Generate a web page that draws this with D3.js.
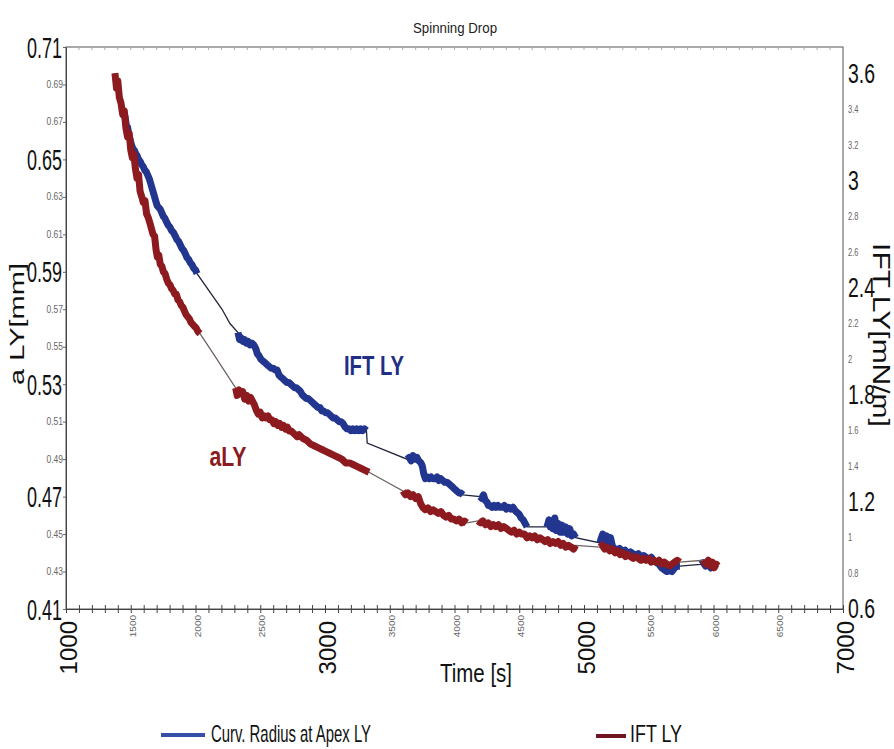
<!DOCTYPE html>
<html>
<head>
<meta charset="utf-8">
<script src="https://cdn.jsdelivr.net/npm/d3@7"></script>
<style>
  html, body { margin: 0; padding: 0; background: #fff; }
  svg text { font-family: "Liberation Sans", Arial, sans-serif; }
</style>
</head>
<body>
<svg id="chart" width="894" height="749"></svg>
<script>
// ---------------- DATA ----------------
const chartTitle = "Spinning Drop";
const xTitle = "Time [s]";
const yLeftTitle = "a LY[mm]";
const yRightTitle = "IFT LY[mN/m]";
const legendLabels = ["Curv. Radius at Apex LY", "IFT LY"];
const annotations = ["IFT LY", "aLY"];

const xTickLabels = [1000, 1500, 2000, 2500, 3000, 3500, 4000, 4500, 5000, 5500, 6000, 6500, 7000];
const xBigTicks = [1000, 3000, 5000, 7000];
const leftTicks = [0.41, 0.43, 0.45, 0.47, 0.49, 0.51, 0.53, 0.55, 0.57, 0.59, 0.61, 0.63, 0.65, 0.67, 0.69, 0.71];
const leftBigTicks = [0.41, 0.47, 0.53, 0.59, 0.65, 0.71];
const rightTicks = [0.6, 0.8, 1, 1.2, 1.4, 1.6, 1.8, 2, 2.2, 2.4, 2.6, 2.8, 3, 3.2, 3.4, 3.6];
const rightBigTicks = [0.6, 1.2, 1.8, 2.4, 3, 3.6];

// aLY [mm] (red, left axis): [time s, value]
const aLY = [
 [1378,0.696],[1390,0.688],[1400,0.692],[1412,0.683],[1425,0.680],[1438,0.674],[1450,0.676],[1462,0.667],
 [1475,0.662],[1488,0.664],[1500,0.655],[1512,0.651],[1524,0.653],[1536,0.645],[1548,0.640],[1560,0.642],
 [1572,0.633],[1585,0.630],[1597,0.627],[1610,0.628],[1622,0.621],[1635,0.619],[1648,0.616],[1660,0.613],
 [1672,0.610],[1684,0.609],[1695,0.602],[1705,0.598],[1716,0.599],[1728,0.594],[1740,0.593],[1752,0.590],
 [1765,0.589],[1778,0.586],[1790,0.584],[1803,0.583],[1815,0.581],[1828,0.580],[1840,0.578],[1852,0.578],
 [1865,0.575],[1878,0.574],[1890,0.572],[1903,0.571],[1915,0.569],[1928,0.567],[1940,0.566],[1952,0.565],
 [1965,0.563],[1978,0.562],[1990,0.561],[2005,0.560],[2020,0.558],[2035,0.557],
 [2150,0.545],
 [2310,0.528],[2322,0.524],[2335,0.527],[2350,0.525],[2365,0.526],[2380,0.522],[2395,0.524],[2410,0.521],
 [2425,0.523],[2440,0.521],[2455,0.519],[2470,0.516],[2485,0.514],[2500,0.515],[2515,0.512],[2530,0.513],
 [2545,0.512],[2560,0.513],[2575,0.511],[2590,0.511],[2605,0.509],[2620,0.510],[2635,0.508],[2650,0.509],
 [2665,0.507],[2680,0.508],[2695,0.506],[2710,0.507],[2725,0.505],[2740,0.505],[2755,0.504],[2770,0.503],
 [2785,0.502],[2800,0.503],[2830,0.501],[2860,0.500],[2890,0.498],[2920,0.497],[2950,0.496],[2980,0.495],
 [3010,0.494],[3040,0.493],[3070,0.492],[3100,0.491],[3130,0.490],[3160,0.488],[3190,0.488],[3220,0.487],
 [3250,0.486],[3280,0.485],[3310,0.484],[3340,0.483],
 [3602,0.473],[3620,0.471],[3640,0.472],[3660,0.470],[3680,0.471],[3700,0.469],[3720,0.470],[3740,0.466],
 [3757,0.464],[3775,0.463],[3795,0.464],[3815,0.462],[3835,0.463],[3855,0.462],[3875,0.461],[3895,0.462],
 [3915,0.460],[3935,0.459],[3955,0.460],[3975,0.458],[3995,0.458],[4015,0.457],[4035,0.458],[4055,0.456],
 [4075,0.457],[4095,0.456],
 [4181,0.457],[4200,0.456],[4220,0.457],[4240,0.455],[4260,0.456],[4280,0.454],[4300,0.455],[4320,0.454],
 [4340,0.455],[4360,0.453],[4380,0.454],[4400,0.453],[4420,0.452],[4440,0.451],[4460,0.452],[4480,0.450],
 [4500,0.451],[4520,0.450],[4540,0.450],[4560,0.448],[4580,0.449],[4600,0.448],[4620,0.449],[4640,0.447],
 [4660,0.448],[4680,0.447],[4700,0.446],[4720,0.447],[4740,0.445],[4760,0.446],[4780,0.445],[4800,0.446],
 [4820,0.444],[4840,0.445],[4860,0.443],[4880,0.444],[4900,0.443],[4920,0.442],[4935,0.444],
 [5124,0.443],[5140,0.444],[5160,0.442],[5180,0.443],[5200,0.441],[5220,0.442],[5240,0.440],[5260,0.441],
 [5280,0.439],[5300,0.440],[5320,0.438],[5340,0.439],[5360,0.438],[5380,0.437],[5400,0.438],[5420,0.437],
 [5440,0.436],[5460,0.437],[5480,0.436],[5500,0.437],[5520,0.435],[5540,0.436],[5560,0.435],[5580,0.436],
 [5600,0.434],[5620,0.435],[5640,0.434],[5660,0.433],[5680,0.434],[5700,0.435],[5720,0.436],[5740,0.435],
 [5920,0.436],[5940,0.434],[5960,0.436],[5975,0.433],[5990,0.435],[6005,0.432],[6020,0.434],[6035,0.433]
];
const aLYDense = [[1378,2035],[2310,3340],[3602,4095],[4181,4935],[5124,5740],[5920,6035]];

// IFT LY [mN/m] (blue, right axis): [time s, value]
const iftLY = [
 [1432,3.40],[1444,3.37],[1456,3.36],[1466,3.31],[1476,3.30],[1486,3.25],[1496,3.23],[1506,3.20],
 [1517,3.18],[1528,3.17],[1540,3.15],[1550,3.14],[1560,3.12],[1572,3.11],[1584,3.09],[1596,3.08],
 [1608,3.06],[1620,3.05],[1632,3.03],[1644,3.01],[1656,2.98],[1668,2.95],[1680,2.92],[1692,2.89],
 [1704,2.86],[1716,2.85],[1728,2.84],[1740,2.82],[1752,2.80],[1764,2.79],[1776,2.77],[1790,2.75],
 [1803,2.74],[1816,2.72],[1830,2.71],[1844,2.69],[1857,2.67],[1870,2.66],[1883,2.64],[1896,2.62],
 [1909,2.61],[1922,2.59],[1934,2.57],[1947,2.56],[1960,2.54],[1973,2.53],[1986,2.51],[2000,2.50],[2012,2.48],
 [2205,2.28],[2266,2.20],
 [2328,2.15],[2340,2.11],[2352,2.12],[2365,2.10],[2378,2.11],[2392,2.09],[2406,2.10],[2420,2.08],
 [2435,2.09],[2450,2.08],[2465,2.06],[2478,2.03],[2490,2.02],[2505,2.00],[2520,1.99],[2537,1.98],
 [2552,1.97],[2568,1.96],[2584,1.95],[2600,1.95],[2615,1.94],[2630,1.94],[2645,1.91],[2660,1.90],
 [2676,1.89],[2690,1.88],[2705,1.87],[2720,1.87],[2735,1.86],[2750,1.85],[2765,1.84],[2780,1.84],
 [2795,1.83],[2810,1.82],[2825,1.80],[2840,1.79],[2855,1.78],[2870,1.78],[2885,1.77],[2900,1.76],
 [2915,1.75],[2930,1.74],[2945,1.73],[2961,1.73],[2975,1.71],[2990,1.71],[3005,1.70],[3020,1.70],
 [3035,1.69],[3050,1.68],[3065,1.67],[3080,1.67],[3095,1.66],[3110,1.65],[3125,1.65],[3139,1.64],
 [3155,1.62],[3170,1.61],[3185,1.61],[3200,1.60],[3215,1.61],[3230,1.60],[3245,1.61],[3260,1.60],
 [3275,1.61],[3290,1.60],[3305,1.61],[3320,1.60],[3326,1.53],
 [3633,1.44],[3650,1.45],[3665,1.43],[3680,1.46],[3695,1.44],[3710,1.45],[3725,1.43],[3740,1.42],
 [3752,1.40],[3762,1.36],[3775,1.33],[3790,1.34],[3805,1.33],[3820,1.34],[3835,1.33],[3850,1.33],
 [3865,1.34],[3880,1.32],[3895,1.33],[3910,1.32],[3925,1.31],[3942,1.31],[3960,1.30],[3975,1.29],
 [3990,1.28],[4004,1.27],[4020,1.26],[4035,1.25],[4050,1.25],[4066,1.24],
 [4197,1.23],[4210,1.22],[4224,1.24],[4236,1.21],[4250,1.20],[4262,1.18],[4274,1.18],[4290,1.17],
 [4305,1.18],[4320,1.17],[4335,1.18],[4351,1.17],[4368,1.17],[4385,1.18],[4400,1.16],[4418,1.17],
 [4435,1.16],[4452,1.17],[4470,1.15],[4485,1.14],[4500,1.13],[4515,1.11],[4530,1.10],[4545,1.08],[4560,1.06],
 [4714,1.06],[4730,1.10],[4740,1.06],[4750,1.09],[4760,1.05],[4775,1.11],[4785,1.04],[4800,1.08],
 [4815,1.03],[4830,1.07],[4845,1.03],[4860,1.06],[4875,1.02],[4890,1.05],[4905,1.01],[4920,1.02],[4935,1.00],
 [5124,0.97],[5130,0.99],[5145,1.02],[5160,0.97],[5175,1.01],[5190,0.96],[5205,1.00],[5220,0.95],
 [5235,0.94],[5255,0.93],[5275,0.94],[5295,0.92],[5317,0.93],[5340,0.91],[5360,0.92],[5378,0.91],
 [5400,0.90],[5420,0.91],[5440,0.89],[5460,0.90],[5480,0.89],[5500,0.88],[5520,0.89],[5540,0.87],
 [5560,0.86],[5580,0.85],[5600,0.83],[5620,0.82],[5640,0.81],[5660,0.82],[5680,0.81],[5700,0.83],
 [5720,0.84],[5741,0.84],
 [5900,0.85],[5920,0.86],[5940,0.84],[5960,0.85],[5980,0.83],[6000,0.84]
];
const iftDense = [[1432,2012],[2328,3320],[3633,4066],[4197,4560],[4714,4935],[5124,5741],[5900,6000]];

// ---------------- CHART ----------------
const plotLeft = 66, plotRight = 843, plotTop = 47, plotBottom = 609;
const svg = d3.select("#chart");

const x = d3.scaleLinear().domain([1000, 7000]).range([plotLeft, plotRight]);
const yL = d3.scaleLinear().domain([0.41, 0.71]).range([plotBottom, plotTop]);
const yR = d3.scaleLinear().domain([0.6, 3.75]).range([plotBottom, plotTop]);

const blue = "#22368f", blueThin = "#22243a";
const red = "#8c1a1f", redThin = "#6e6262";

// frame
svg.append("rect").attr("x", plotLeft).attr("y", plotTop).attr("width", plotRight - plotLeft).attr("height", plotBottom - plotTop)
  .attr("fill", "none").attr("stroke", "#555").attr("stroke-width", 1);

// top minor ticks
svg.append("g").selectAll("line").data(d3.range(1100, 7000, 100)).join("line")
  .attr("x1", d => x(d)).attr("x2", d => x(d)).attr("y1", plotTop).attr("y2", plotTop + 3)
  .attr("stroke", "#aaa").attr("stroke-width", 1);

// bottom axis with crossing ticks
const gx = svg.append("g").attr("transform", `translate(0,${plotBottom})`)
  .call(d3.axisBottom(x).tickValues(d3.range(1000, 7001, 100)).tickSize(4).tickSizeOuter(0).tickFormat(""));
gx.select(".domain").attr("stroke", "#444");
gx.selectAll(".tick line").attr("stroke", "#444").attr("y1", -4);

svg.append("g").selectAll("text").data(xTickLabels).join("text")
  .attr("transform", d => xBigTicks.includes(d)
      ? `translate(${x(d) + 3},${plotBottom + 12}) rotate(-90)`
      : `translate(${x(d) + 2},${plotBottom + 6}) rotate(-90) scale(1,0.9)`)
  .attr("text-anchor", "end").attr("dy", "0.35em")
  .attr("font-size", d => xBigTicks.includes(d) ? 24 : 10)
  .attr("fill", d => xBigTicks.includes(d) ? "#111" : "#666")
  .text(d => d);

// left axis
const gl = svg.append("g").attr("transform", `translate(${plotLeft},0)`)
  .call(d3.axisLeft(yL).tickValues(leftTicks).tickSize(3).tickSizeOuter(0).tickFormat(""));
gl.select(".domain").attr("stroke", "#444");
gl.selectAll(".tick line").attr("stroke", "#666");
svg.append("g").selectAll("text").data(leftTicks).join("text")
  .attr("transform", d => leftBigTicks.includes(d)
      ? `translate(${plotLeft - 4},${yL(d)}) scale(0.6,1)`
      : `translate(${plotLeft - 3},${yL(d)}) scale(0.85,1)`)
  .attr("dy", "0.35em")
  .attr("text-anchor", "end")
  .attr("font-size", d => leftBigTicks.includes(d) ? 30 : 10)
  .attr("fill", d => leftBigTicks.includes(d) ? "#111" : "#666")
  .text(d => d3.format(".2f")(d));

// right axis labels
svg.append("g").selectAll("text").data(rightTicks).join("text")
  .attr("transform", d => rightBigTicks.includes(d)
      ? `translate(${plotRight + 5},${yR(d)}) scale(0.72,1)`
      : `translate(${plotRight + 5},${yR(d)}) scale(0.75,1)`)
  .attr("dy", "0.35em")
  .attr("text-anchor", "start")
  .attr("font-size", d => rightBigTicks.includes(d) ? 27 : 10)
  .attr("fill", d => rightBigTicks.includes(d) ? "#111" : "#666")
  .text(d => d3.format("~g")(d));

// titles
svg.append("text").attr("x", 455).attr("y", 33).attr("text-anchor", "middle")
  .attr("font-size", 15).attr("fill", "#222")
  .attr("textLength", 84).attr("lengthAdjust", "spacingAndGlyphs").text(chartTitle);
svg.append("text").attr("x", 476).attr("y", 682).attr("text-anchor", "middle")
  .attr("font-size", 26).attr("fill", "#111")
  .attr("textLength", 72).attr("lengthAdjust", "spacingAndGlyphs").text(xTitle);
svg.append("text").attr("transform", `translate(24,324) rotate(-90) scale(1,0.68)`).attr("text-anchor", "middle")
  .attr("font-size", 29).attr("fill", "#111").text(yLeftTitle);
svg.append("text").attr("transform", `translate(873,335) rotate(90) scale(1,0.78)`).attr("text-anchor", "middle")
  .attr("font-size", 30).attr("fill", "#111").text(yRightTitle);

// series
function drawSeries(data, dense, yScale, thick, thin) {
  const line = d3.line().x(d => x(d[0])).y(d => yScale(d[1]));
  svg.append("path").datum(data).attr("d", line)
    .attr("fill", "none").attr("stroke", thin).attr("stroke-width", 1.3);
  dense.forEach(([a, b]) => {
    const seg = data.filter(d => d[0] >= a && d[0] <= b);
    svg.append("path").datum(seg).attr("d", line)
      .attr("fill", "none").attr("stroke", thick).attr("stroke-width", 7)
      .attr("stroke-linejoin", "round").attr("stroke-linecap", "butt");
  });
}
drawSeries(iftLY, iftDense, yR, blue, blueThin);
drawSeries(aLY, aLYDense, yL, red, redThin);

// annotations
svg.append("text").attr("x", 374).attr("y", 375).attr("text-anchor", "middle")
  .attr("font-size", 28).attr("font-weight", "bold").attr("fill", "#1f2f86")
  .attr("textLength", 60).attr("lengthAdjust", "spacingAndGlyphs").text(annotations[0]);
svg.append("text").attr("x", 228).attr("y", 466).attr("text-anchor", "middle")
  .attr("font-size", 28).attr("font-weight", "bold").attr("fill", "#8a1c1f")
  .attr("textLength", 37).attr("lengthAdjust", "spacingAndGlyphs").text(annotations[1]);

// legend
const legY = 735;
svg.append("line").attr("x1", 161).attr("x2", 205).attr("y1", legY).attr("y2", legY)
  .attr("stroke", "#3450a8").attr("stroke-width", 4);
svg.append("text").attr("x", 211).attr("y", 742)
  .attr("font-size", 24).attr("fill", "#111")
  .attr("textLength", 160).attr("lengthAdjust", "spacingAndGlyphs").text(legendLabels[0]);
svg.append("line").attr("x1", 596).attr("x2", 626).attr("y1", legY + 1).attr("y2", legY + 1)
  .attr("stroke", "#6e1520").attr("stroke-width", 4);
svg.append("text").attr("x", 630).attr("y", 742)
  .attr("font-size", 24).attr("fill", "#111")
  .attr("textLength", 52).attr("lengthAdjust", "spacingAndGlyphs").text(legendLabels[1]);
</script>
</body>
</html>
